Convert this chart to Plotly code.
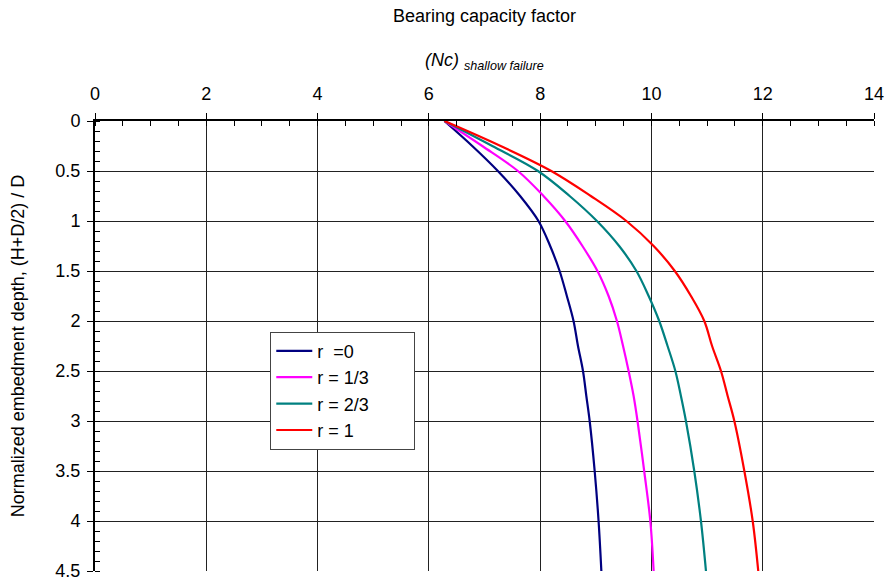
import plotly.graph_objects as go

# Normalized embedment depth, (H+D/2)/D
depth = [0, 0.25, 0.5, 0.75, 1.0, 1.25, 1.5, 1.75, 2.0, 2.25, 2.5, 2.75, 3.0, 3.5, 4.0, 4.5]

# Shallow-failure bearing capacity factor Nc for each roughness r
nc_r0 = [6.28, 6.78, 7.24, 7.64, 7.97, 8.18, 8.35, 8.48, 8.60, 8.68, 8.77, 8.83, 8.89, 8.98, 9.05, 9.10]
nc_r13 = [6.28, 6.96, 7.60, 8.06, 8.45, 8.76, 9.03, 9.23, 9.38, 9.49, 9.59, 9.68, 9.75, 9.87, 9.98, 10.04]
nc_r23 = [6.28, 7.14, 7.96, 8.53, 9.02, 9.42, 9.73, 9.95, 10.14, 10.29, 10.43, 10.53, 10.62, 10.77, 10.89, 10.98]
nc_r1 = [6.28, 7.29, 8.20, 8.91, 9.55, 10.04, 10.42, 10.71, 10.95, 11.09, 11.25, 11.37, 11.49, 11.67, 11.82, 11.92]

series_names = ["r \u00a0=0", "r = 1/3", "r = 2/3", "r = 1"]
series_values = [nc_r0, nc_r13, nc_r23, nc_r1]
series_colors = ["#000080", "#FF00FF", "#008080", "#FF0000"]

FONT = "Liberation Sans, Arial, sans-serif"
PAD = "\u00a0" * 8  # widens the legend box to the right of the labels

fig = go.Figure()
for i, (name, vals, col) in enumerate(zip(series_names, series_values, series_colors)):
    fig.add_trace(go.Scatter(
        x=vals, y=depth, mode="lines", name=name + PAD,
        line=dict(color=col, width=2.2, shape="spline", smoothing=1.0),
        legendgroup=f"g{i}",
    ))

axis_common = dict(
    showgrid=True, gridcolor="#222222", gridwidth=1,
    showline=True, linecolor="black", linewidth=2,
    ticks="outside", ticklen=6, tickcolor="black", tickwidth=1,
    zeroline=False, automargin=False,
    tickfont=dict(family=FONT, size=18, color="black"),
)

fig.update_xaxes(
    side="top", range=[0, 14], dtick=2, tick0=0, ticklabelstandoff=6,
    minor=dict(dtick=0.5, ticks="inside", ticklen=5, tickcolor="black", showgrid=False),
    **axis_common,
)
fig.update_yaxes(
    range=[4.5, 0], dtick=0.5, tick0=0, ticklabelstandoff=3,
    minor=dict(dtick=0.1, ticks="inside", ticklen=5, tickcolor="black", showgrid=False),
    title=dict(text="Normalized embedment depth, (H+D/2) / D",
               font=dict(family=FONT, size=18, color="black"), standoff=26),
    **axis_common,
)

fig.update_layout(
    width=886, height=583,
    margin=dict(l=94.5, r=12, t=120.5, b=12),
    paper_bgcolor="white", plot_bgcolor="white",
    showlegend=True,
    legend=dict(
        x=0.225, y=0.532, xanchor="left", yanchor="top",
        bgcolor="white", bordercolor="#444444", borderwidth=1,
        font=dict(family=FONT, size=18, color="black"),
        tracegroupgap=0, itemwidth=36,
    ),
    annotations=[
        dict(text="Bearing capacity factor", xref="paper", yref="paper",
             x=0.5, y=1, yanchor="middle", xanchor="center", showarrow=False,
             yshift=105.5,
             font=dict(family=FONT, size=18, color="black")),
        dict(text="<i>(Nc)</i> <sub><i>shallow failure</i></sub>", xref="paper", yref="paper",
             x=0.5, y=1, yanchor="middle", xanchor="center", showarrow=False,
             yshift=60,
             font=dict(family=FONT, size=18, color="black")),
    ],
)

fig.write_html("out.html")
